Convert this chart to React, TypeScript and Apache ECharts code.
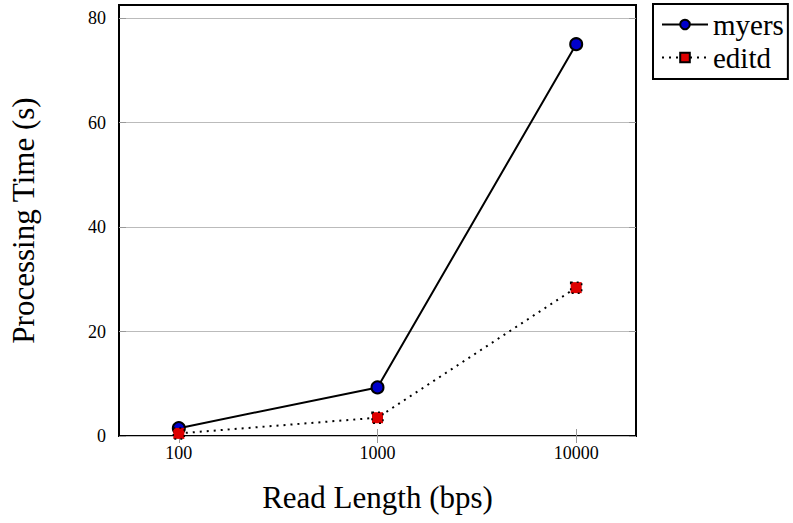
import React, { useEffect, useRef } from "react";
import * as echarts from "echarts";

const readLengths = [100, 1000, 10000];
const myersTimes = [1.5, 9.3, 75];
const editdTimes = [0.5, 3.5, 28.4];
const yTicks = [0, 20, 40, 60, 80];
const xTickValues = [100, 1000, 10000];

const FONT = "'Liberation Serif', 'DejaVu Serif', serif";

export default function App() {
  const ref = useRef<HTMLDivElement>(null);
  useEffect(() => {
    if (!ref.current) return;
    const chart = echarts.init(ref.current, null, { renderer: "svg" });
    const lx = (v: number) => Math.log10(v);
    const xMin = lx(50);
    const xMax = lx(20000);
    const xCustom = xTickValues.map(lx);
    const tickStyle = { show: true, inside: true, length: 7, lineStyle: { color: "#999", width: 1 } };
    const baseX = {
      type: "value" as const,
      min: xMin,
      max: xMax,
      axisLine: { show: false },
      splitLine: { show: false },
    };
    const baseY = {
      type: "value" as const,
      min: 0,
      max: 82.5,
      axisLine: { show: false },
    };
    chart.setOption({
      animation: false,
      backgroundColor: "#fff",
      grid: {
        left: 118,
        right: 157,
        top: 5,
        bottom: 87,
        show: true,
        borderColor: "#000",
        borderWidth: 2,
        containLabel: false,
      },
      xAxis: [
        {
          ...baseX,
          position: "bottom",
          name: "Read Length (bps)",
          nameLocation: "middle",
          nameGap: 46,
          nameTextStyle: { fontFamily: FONT, fontSize: 31, color: "#000" },
          axisTick: { ...tickStyle, customValues: xCustom },
          axisLabel: {
            customValues: xCustom,
            formatter: (v: number) => String(Math.round(Math.pow(10, v))),
            fontFamily: FONT,
            fontSize: 18,
            color: "#000",
            margin: 8,
          },
        },
        {
          ...baseX,
          position: "top",
          axisTick: { ...tickStyle, customValues: xCustom },
          axisLabel: { show: false, customValues: xCustom },
        },
      ],
      yAxis: [
        {
          ...baseY,
          position: "left",
          name: "Processing Time (s)",
          nameLocation: "middle",
          nameGap: 80,
          nameRotate: 90,
          nameTextStyle: { fontFamily: FONT, fontSize: 31, color: "#000" },
          axisTick: { ...tickStyle, customValues: yTicks },
          axisLabel: {
            customValues: yTicks,
            fontFamily: FONT,
            fontSize: 18,
            color: "#000",
            margin: 13,
          },
          splitLine: { show: true, lineStyle: { color: "#bbb", width: 1 } },
        },
        {
          ...baseY,
          position: "right",
          axisTick: { ...tickStyle, customValues: yTicks },
          axisLabel: { show: false, customValues: yTicks },
          splitLine: { show: false },
        },
      ],
      legend: {
        left: 653,
        top: 4,
        orient: "vertical",
        borderColor: "#000",
        borderWidth: 2,
        padding: [6, 4, 7, 8],
        itemGap: 4,
        itemWidth: 46,
        itemHeight: 12,
        textStyle: { fontFamily: FONT, fontSize: 29, color: "#000" },
        data: ["myers", "editd"],
      },
      series: [
        {
          name: "myers",
          type: "line",
          data: readLengths.map((r, i) => [lx(r), myersTimes[i]]),
          symbol: "circle",
          symbolSize: 12,
          lineStyle: { color: "#000", width: 2, type: "solid" },
          itemStyle: { color: "#0000cc", borderColor: "#000", borderWidth: 2 },
        },
        {
          name: "editd",
          type: "line",
          data: readLengths.map((r, i) => [lx(r), editdTimes[i]]),
          symbol: "rect",
          symbolSize: 11,
          lineStyle: { color: "#000", width: 2, type: [2, 5] },
          itemStyle: { color: "#dd0000", borderColor: "#000", borderWidth: 1.5, borderType: [2, 4] },
        },
      ],
    });
    return () => chart.dispose();
  }, []);
  return <div ref={ref} style={{ width: 793, height: 523, position: "absolute", left: 0, top: 0 }} />;
}
